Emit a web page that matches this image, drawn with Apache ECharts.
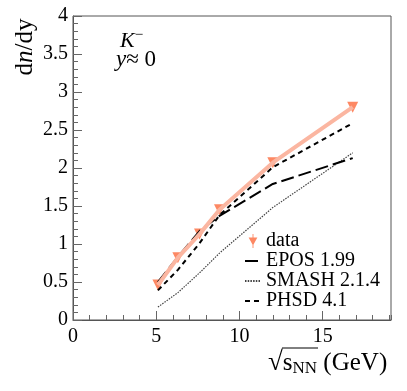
<!DOCTYPE html>
<html>
<head>
<meta charset="utf-8">
<script src="https://cdn.jsdelivr.net/npm/echarts@6/dist/echarts.min.js"></script>
<style>
  html, body { margin: 0; padding: 0; background: #fff; }
  #chart { width: 407px; height: 391px; }
</style>
</head>
<body>
<div id="chart"></div>
<script>
// beam energies (GeV) and dn/dy of K- at y~0
const energy = [5.1, 6.3, 7.6, 8.8, 12.0, 16.8];
const dataY = [0.46, 0.82, 1.13, 1.45, 2.07, 2.80];
const eposY = [0.50, 0.83, 1.17, 1.37, 1.79, 2.13];
const smashY = [0.17, 0.36, 0.62, 0.88, 1.48, 2.20];
const phsdY = [0.39, 0.66, 1.01, 1.38, 2.01, 2.59];

const serif = '"Liberation Serif", "Times New Roman", "DejaVu Serif", serif';
const pairs = ys => energy.map((x, i) => [x, ys[i]]);

const chart = echarts.init(document.getElementById('chart'));

const option = {
  animation: false,
  textStyle: { fontFamily: serif },
  grid: {
    left: 73, right: 16, top: 16, bottom: 71,
    show: true, borderColor: '#555', borderWidth: 1
  },
  xAxis: [
    {
      type: 'value', min: 0, max: 19.1, interval: 5,
      axisLine: { lineStyle: { color: '#555' } },
      axisTick: { inside: true, length: 9, lineStyle: { color: '#666' } },
      axisLabel: { color: '#000', fontFamily: serif, fontSize: 20, margin: 7, showMaxLabel: false },
      splitLine: { show: false }
    },
    {
      // minor ticks every 1 GeV
      type: 'value', min: 0, max: 19.1, interval: 1, position: 'bottom',
      axisLine: { show: false },
      axisTick: { inside: true, length: 5, lineStyle: { color: '#666' } },
      axisLabel: { show: false },
      splitLine: { show: false }
    }
  ],
  yAxis: {
    type: 'value', min: 0, max: 4, interval: 0.5,
    axisLine: { lineStyle: { color: '#555' } },
    axisTick: { inside: true, length: 9, lineStyle: { color: '#666' } },
    minorTick: { show: true, splitNumber: 5, length: 5, lineStyle: { color: '#666' } },
    axisLabel: { color: '#000', fontFamily: serif, fontSize: 20, margin: 5 },
    splitLine: { show: false }
  },
  legend: {
    orient: 'vertical', left: 244, top: 231, padding: 0,
    itemWidth: 16, itemHeight: 14, itemGap: 0,
    textStyle: { fontFamily: serif, fontSize: 20, lineHeight: 19.5, color: '#000' },
    data: [
      { name: 'data', icon: 'path://M0,4 L10,4 L5,13 Z M4.5,0 L5.5,0 L5.5,16 L4.5,16 Z' },
      { name: 'EPOS 1.99', itemStyle: { opacity: 0 } },
      { name: 'SMASH 2.1.4', itemStyle: { opacity: 0 } },
      { name: 'PHSD 4.1', itemStyle: { opacity: 0 } }
    ]
  },
  series: [
    {
      name: 'SMASH 2.1.4', type: 'line', data: pairs(smashY), symbol: 'none',
      lineStyle: { color: '#444', width: 1.2, type: [1.5, 1.2] }
    },
    {
      name: 'EPOS 1.99', type: 'line', data: pairs(eposY), symbol: 'none',
      lineStyle: { color: '#000', width: 2, type: [13, 5] }
    },
    {
      name: 'PHSD 4.1', type: 'line', data: pairs(phsdY), symbol: 'none',
      lineStyle: { color: '#000', width: 2, type: [5, 4] }
    },
    {
      name: 'dataLine', type: 'line', data: pairs(dataY), symbol: 'none',
      lineStyle: { color: '#fbb6a1', width: 4 }
    },
    {
      name: 'data', type: 'scatter', data: pairs(dataY),
      symbol: 'triangle', symbolRotate: 180, symbolSize: 11,
      itemStyle: { color: '#fd6a3c' }
    }
  ],
  graphic: [
    {
      type: 'text', x: 25, y: 47, rotation: Math.PI / 2,
      style: {
        text: '{a|d}{b|n}{a|/dy}', align: 'center', verticalAlign: 'middle',
        rich: {
          a: { fontFamily: serif, fontSize: 25, fill: '#000' },
          b: { fontFamily: serif, fontSize: 25, fontStyle: 'italic', fill: '#000' }
        }
      }
    },
    {
      type: 'text', x: 120, y: 41,
      style: {
        text: '{k|K}{s|−}', verticalAlign: 'middle',
        rich: {
          k: { fontFamily: serif, fontSize: 22, fontStyle: 'italic', fill: '#000' },
          s: { fontFamily: serif, fontSize: 15, fill: '#000', padding: [0, 0, 12, 0] }
        }
      }
    },
    {
      type: 'text', x: 116, y: 60,
      style: {
        text: '{i|y}{n|≈ 0}', verticalAlign: 'middle',
        rich: {
          i: { fontFamily: serif, fontSize: 23, fontStyle: 'italic', fill: '#000' },
          n: { fontFamily: serif, fontSize: 23, fill: '#000' }
        }
      }
    },
    {
      type: 'text', x: 268, y: 363,
      style: {
        text: '{r|√}{s|s}{sub|NN}{t| (GeV)}', verticalAlign: 'middle',
        rich: {
          r: { fontFamily: serif, fontSize: 27, fill: '#000' },
          s: { fontFamily: serif, fontSize: 25, fill: '#000' },
          sub: { fontFamily: serif, fontSize: 17, fill: '#000', padding: [12, 0, 0, 0] },
          t: { fontFamily: serif, fontSize: 25, fill: '#000' }
        }
      }
    },
    {
      type: 'line', shape: { x1: 282, y1: 348, x2: 318, y2: 348 },
      style: { stroke: '#000', lineWidth: 1 }
    }
  ]
};

chart.setOption(option);
</script>
</body>
</html>
